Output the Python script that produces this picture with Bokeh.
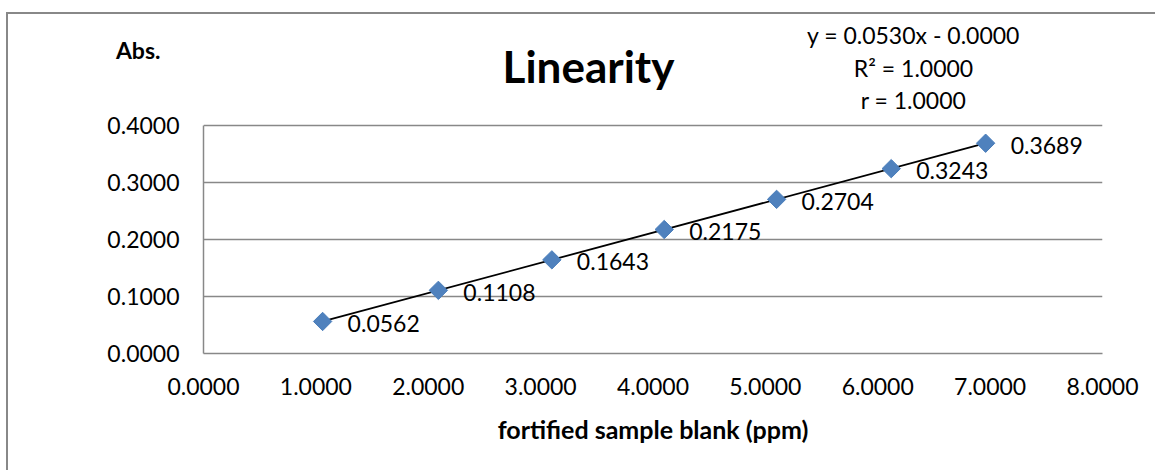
import numpy as np
from bokeh.plotting import figure
from bokeh.models import (Label, FixedTicker, NumeralTickFormatter, Range1d,
                          ColumnDataSource)
from bokeh.core.properties import value
from bokeh.embed import file_html
from bokeh.resources import INLINE

# ---- data ----
conc = [1.06, 2.09, 3.10, 4.10, 5.10, 6.12, 6.96]
absorb = [0.0562, 0.1108, 0.1643, 0.2175, 0.2704, 0.3243, 0.3689]
point_labels = ["0.0562", "0.1108", "0.1643", "0.2175", "0.2704", "0.3243", "0.3689"]
x_ticks = [0, 1, 2, 3, 4, 5, 6, 7, 8]
y_ticks = [0.0, 0.1, 0.2, 0.3, 0.4]
title_text = "Linearity"
x_label = "fortified sample blank (ppm)"
y_label = "Abs."
eq_lines = ["y = 0.0530x - 0.0000", "R\u00b2 = 1.0000", "r = 1.0000"]

FONT = "Lato"
# canvas origin on the page (shifted by CSS for the chart border)
OX, OY = 8, 14
W, H = 1149, 458
# plot frame in page pixels (frame extends above the 0.4 gridline to hold
# the title and the trendline equation)
F_LEFT, F_RIGHT, F_TOP, F_BOTTOM = 203, 1102, 20, 353
Y_AXIS_TOP_PX = 125          # page y of the 0.4 gridline
Y_MAX = y_ticks[-1]
Y_END = Y_MAX * (F_BOTTOM - F_TOP) / (F_BOTTOM - Y_AXIS_TOP_PX)


def sx(ix):
    return ix - F_LEFT


def sy(iy):
    return F_BOTTOM - iy


p = figure(width=W, height=H, output_backend="svg", toolbar_location=None,
           x_range=Range1d(x_ticks[0], x_ticks[-1]), y_range=Range1d(0, Y_END),
           min_border_left=F_LEFT - OX, min_border_right=W - (F_RIGHT - OX),
           min_border_top=F_TOP - OY, min_border_bottom=H - (F_BOTTOM - OY))
p.styles = {"border-left": "2px solid #888888",
            "border-top": "2px solid #888888",
            "position": "relative", "left": "6px", "top": "12px"}
p.outline_line_color = None
p.background_fill_color = "white"
p.border_fill_color = "white"

# axes
for ax in (p.xaxis[0], p.yaxis[0]):
    ax.axis_line_color = "#888888"
    ax.axis_line_width = 1.5
    ax.major_tick_line_color = None
    ax.minor_tick_line_color = None
    ax.major_label_text_font = FONT
    ax.major_label_text_font_size = "23px"
    ax.major_label_text_color = "black"
p.xaxis.ticker = FixedTicker(ticks=x_ticks)
p.yaxis.ticker = FixedTicker(ticks=y_ticks)
p.yaxis.bounds = (y_ticks[0], y_ticks[-1])
p.xaxis.formatter = NumeralTickFormatter(format="0.0000")
p.yaxis.formatter = NumeralTickFormatter(format="0.0000")
p.xaxis.major_label_standoff = 18
p.yaxis.major_label_standoff = 18
p.xaxis.axis_label = x_label
p.xaxis.axis_label_text_font = FONT
p.xaxis.axis_label_text_font_style = "bold"
p.xaxis.axis_label_text_font_size = "25px"
p.xaxis.axis_label_standoff = 16
p.xaxis.axis_label_text_color = "black"

# "Abs." sits at the top end of the y axis, horizontal; the leading empty
# line pushes it below the top of the (extended) frame
p.yaxis.axis_label = "\n" + y_label
p.yaxis.axis_label_orientation = "horizontal"
p.yaxis.axis_label_align = "end"
p.yaxis.axis_label_standoff_mode = "axis"
p.yaxis.axis_label_standoff = 43
p.yaxis.axis_label_text_font = FONT
p.yaxis.axis_label_text_font_style = "bold"
p.yaxis.axis_label_text_font_size = "23px"
p.yaxis.axis_label_text_line_height = 2.1
p.yaxis.axis_label_text_color = "black"

p.xgrid.grid_line_color = None
p.ygrid.grid_line_color = "#888888"
p.ygrid.grid_line_width = 1.5
p.ygrid.ticker = FixedTicker(ticks=y_ticks[1:])

# trendline (least squares fit)
slope, intercept = np.polyfit(conc, absorb, 1)
tx = [conc[0], conc[-1]]
ty = [slope * v + intercept for v in tx]
p.line(tx, ty, line_color="black", line_width=1.8)

src = ColumnDataSource(dict(x=conc, y=absorb, t=point_labels))
p.scatter("x", "y", source=src, marker="square", angle=np.pi / 4, size=13,
          fill_color="#4F81BD", line_color="#4A7EBB")
p.text("x", "y", text="t", source=src, x_offset=25, y_offset=2,
       text_baseline="middle", text_align="left", text_font=value(FONT),
       text_font_size="23px", text_color="black")

# title and trendline equation (inside the extended frame)
p.add_layout(Label(x=sx(588), y=sy(65), x_units="screen", y_units="screen",
                   text=title_text, text_font=FONT, text_font_style="bold",
                   text_font_size="44px", text_align="center",
                   text_baseline="middle", text_color="black"))
for line, mid in zip(eq_lines, [34, 67.5, 99.5]):
    p.add_layout(Label(x=sx(913), y=sy(mid), x_units="screen",
                       y_units="screen", text=line, text_font=FONT,
                       text_font_size="23px", text_align="center",
                       text_baseline="middle", text_color="black"))

open("out.html", "w").write(file_html(p, INLINE))
